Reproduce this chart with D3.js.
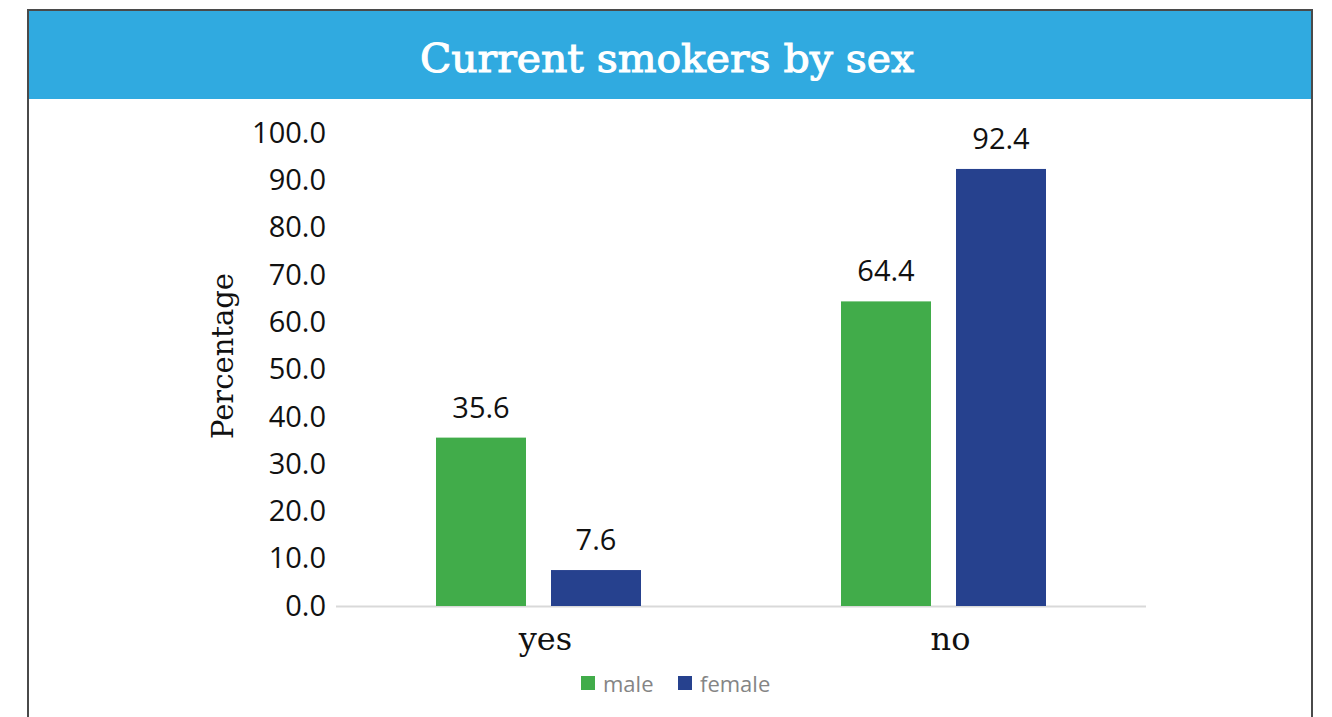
<!DOCTYPE html>
<html>
<head>
<meta charset="utf-8">
<script src="https://cdn.jsdelivr.net/npm/d3@7/dist/d3.min.js"></script>
<style>
  html, body { margin: 0; padding: 0; background: #fff; }
  svg { display: block; }
</style>
</head>
<body>
<svg id="chart" width="1332" height="717"></svg>
<script>
// Share of current smokers, split by sex
const categories = ["yes", "no"];
const seriesNames = ["male", "female"];
const maleValues = [35.6, 64.4];
const femaleValues = [7.6, 92.4];
const yTicks = [0, 10, 20, 30, 40, 50, 60, 70, 80, 90, 100];
const titleText = "Current smokers by sex";
const yAxisTitle = "Percentage";

const colors = { male: "#41AC4A", female: "#26418E" };
const sansFont = "'Open Sans', sans-serif";
const serifFont = "'DejaVu Serif', serif";

const svg = d3.select("#chart");

// Frame and header band
svg.append("rect")
  .attr("x", 29).attr("y", 11).attr("width", 1283).attr("height", 88)
  .attr("fill", "#30AAE0");
svg.append("path")
  .attr("d", "M28,717 L28,10 L1312,10 L1312,717")
  .attr("fill", "none").attr("stroke", "#4a4a4a").attr("stroke-width", 2);

svg.append("text")
  .attr("x", 667).attr("y", 72)
  .attr("text-anchor", "middle")
  .attr("font-family", serifFont)
  .attr("font-size", 40)
  .attr("fill", "#fff")
  .attr("stroke", "#fff")
  .attr("stroke-width", 1.1)
  .attr("textLength", 494)
  .attr("lengthAdjust", "spacingAndGlyphs")
  .text(titleText);

// Plot area
const plot = { left: 336, right: 1146, top: 133, bottom: 606 };

const x0 = d3.scaleBand()
  .domain(categories)
  .range([plot.left, plot.right])
  .paddingInner(0)
  .paddingOuter(0);

// two bars of width 90 separated by a 25px gap, centred in each band
const x1 = d3.scaleBand()
  .domain(seriesNames)
  .range([100, x0.bandwidth() - 100])
  .paddingInner(25 / 115)
  .paddingOuter(0);

const y = d3.scaleLinear()
  .domain([0, 100])
  .range([plot.bottom, plot.top]);

// Y axis tick labels (no axis line)
const yAxis = d3.axisLeft(y)
  .tickValues(yTicks)
  .tickFormat(d3.format(".1f"))
  .tickSize(0)
  .tickPadding(10);

const yG = svg.append("g")
  .attr("transform", `translate(${plot.left},0)`)
  .call(yAxis);
yG.select(".domain").remove();
yG.selectAll("text")
  .attr("font-family", sansFont)
  .attr("font-size", 29)
  .attr("fill", "#111")
  .attr("x", -10);

// Baseline
svg.append("line")
  .attr("x1", plot.left).attr("x2", plot.right)
  .attr("y1", y(0) + 0.5).attr("y2", y(0) + 0.5)
  .attr("stroke", "#d9d9d9").attr("stroke-width", 2);

// Bars
const rows = categories.map((c, i) => ({
  category: c,
  values: [
    { key: "male", value: maleValues[i] },
    { key: "female", value: femaleValues[i] }
  ]
}));

const groups = svg.append("g").selectAll("g")
  .data(rows)
  .join("g")
  .attr("transform", d => `translate(${x0(d.category)},0)`);

groups.selectAll("rect")
  .data(d => d.values)
  .join("rect")
  .attr("x", d => x1(d.key))
  .attr("width", x1.bandwidth())
  .attr("y", d => y(d.value))
  .attr("height", d => y(0) - y(d.value))
  .attr("fill", d => colors[d.key]);

groups.selectAll("text.value")
  .data(d => d.values)
  .join("text")
  .attr("class", "value")
  .attr("x", d => x1(d.key) + x1.bandwidth() / 2)
  .attr("y", d => y(d.value) - 20)
  .attr("text-anchor", "middle")
  .attr("font-family", sansFont)
  .attr("font-size", 29)
  .attr("fill", "#111")
  .text(d => d3.format(".1f")(d.value));

// Category labels
const xAxis = d3.axisBottom(x0).tickSize(0).tickPadding(0);
const xG = svg.append("g")
  .attr("transform", `translate(7,${plot.bottom})`)
  .call(xAxis);
xG.select(".domain").remove();
xG.selectAll("text")
  .attr("font-family", serifFont)
  .attr("font-size", 32)
  .attr("fill", "#111")
  .attr("dy", null)
  .attr("y", 44);

// Y axis title
svg.append("text")
  .attr("transform", "translate(233,356) rotate(-90)")
  .attr("text-anchor", "middle")
  .attr("font-family", serifFont)
  .attr("font-size", 29)
  .attr("fill", "#111")
  .text(yAxisTitle);

// Legend
const legend = svg.append("g").attr("transform", "translate(581,676)");
const legendX = [0, 97];
seriesNames.forEach((name, i) => {
  const g = legend.append("g").attr("transform", `translate(${legendX[i]},0)`);
  g.append("rect").attr("width", 14).attr("height", 14).attr("fill", colors[name]);
  g.append("text")
    .attr("x", 22).attr("y", 15.5)
    .attr("font-family", sansFont)
    .attr("font-size", 22)
    .attr("fill", "#858585")
    .text(name);
});
</script>
</body>
</html>
